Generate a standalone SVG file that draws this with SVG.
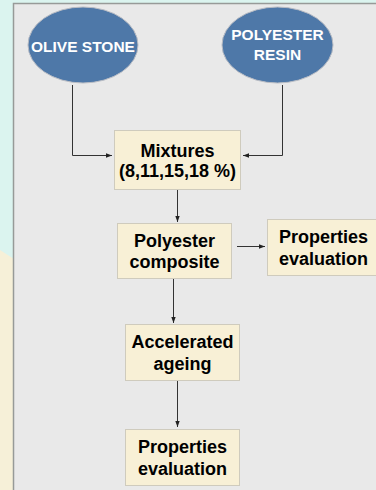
<svg xmlns="http://www.w3.org/2000/svg" width="376" height="490" viewBox="0 0 376 490">
<style>
.box{fill:#f8f0d6;stroke:#cfcbbd;stroke-width:1}
.ell{fill:#4e78a8;stroke:#b8bcc4;stroke-width:1}
.bt{font-family:"Liberation Sans",Arial,sans-serif;font-weight:bold;font-size:18px;fill:#000;text-anchor:middle}
.et{font-family:"Liberation Sans",Arial,sans-serif;font-weight:bold;font-size:15.5px;fill:#fff;text-anchor:middle}
.ln{fill:none;stroke:#333;stroke-width:1}
</style>
<defs>
<marker id="ah" viewBox="0 0 6 6" refX="6" refY="3" markerWidth="6" markerHeight="6" markerUnits="userSpaceOnUse" orient="auto">
<path d="M0,0.8 L6,3 L0,5.2 z" fill="#222"/>
</marker>
</defs>
<rect x="0" y="0" width="376" height="490" fill="#dbf4ef"/>
<polygon points="0,250 14,259 14,490 0,490" fill="#f6f0d8"/>
<rect x="13.5" y="3.5" width="370" height="500" fill="#e9e9e9" stroke="#979a98" stroke-width="1.5"/>
<g id="connectors">
<polyline class="ln" points="72.5,85 72.5,155.5 112,155.5" marker-end="url(#ah)"/>
<polyline class="ln" points="282.5,85 282.5,155.5 243,155.5" marker-end="url(#ah)"/>
<line class="ln" x1="177.5" y1="190" x2="177.5" y2="222" marker-end="url(#ah)"/>
<line class="ln" x1="237" y1="246.5" x2="265" y2="246.5" marker-end="url(#ah)"/>
<line class="ln" x1="173.5" y1="279" x2="173.5" y2="323" marker-end="url(#ah)"/>
<line class="ln" x1="177.5" y1="381" x2="177.5" y2="427" marker-end="url(#ah)"/>
</g>
<g id="olive-stone">
<ellipse class="ell" cx="83" cy="45" rx="55" ry="38"/>
<text class="et" x="83" y="51.5">OLIVE STONE</text>
</g>
<g id="polyester-resin">
<ellipse class="ell" cx="277.5" cy="45" rx="55.5" ry="38"/>
<text class="et" x="277.5" y="40">POLYESTER</text>
<text class="et" x="277.5" y="60">RESIN</text>
</g>
<g id="mixtures">
<rect class="box" x="114.5" y="130.5" width="126" height="59"/>
<text class="bt" x="177.5" y="156.5">Mixtures</text>
<text class="bt" x="177.5" y="177">(8,11,15,18 %)</text>
</g>
<g id="polyester-composite">
<rect class="box" x="117.5" y="223.5" width="114" height="55"/>
<text class="bt" x="174.5" y="246.5">Polyester</text>
<text class="bt" x="174.5" y="268">composite</text>
</g>
<g id="properties-evaluation-1">
<rect class="box" x="267.5" y="219.5" width="112" height="56"/>
<text class="bt" x="323.5" y="243">Properties</text>
<text class="bt" x="323.5" y="265">evaluation</text>
</g>
<g id="accelerated-ageing">
<rect class="box" x="125.5" y="324.5" width="114" height="56"/>
<text class="bt" x="182.5" y="348">Accelerated</text>
<text class="bt" x="182.5" y="370">ageing</text>
</g>
<g id="properties-evaluation-2">
<rect class="box" x="125.5" y="429.5" width="114" height="56"/>
<text class="bt" x="182.5" y="453">Properties</text>
<text class="bt" x="182.5" y="475">evaluation</text>
</g>
</svg>
